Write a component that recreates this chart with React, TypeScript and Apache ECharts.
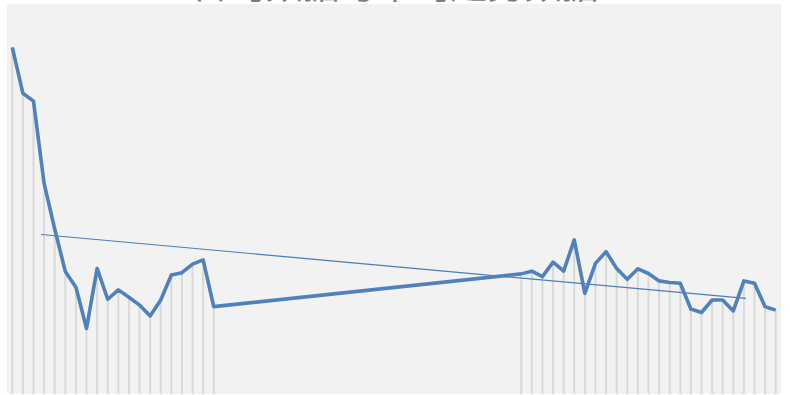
import React, { useEffect, useRef } from "react";
import * as echarts from "echarts";

const TITLE = "日均数据与平均趋势数据";
const SLOT_COUNT = 73; // date slots on the category axis
const GAP_LENGTH = 28; // missing slots between the two groups
const categories: string[] = Array.from({ length: SLOT_COUNT }, (_, i) => `第${i + 1}天`);

const firstGroup = [
  88.9, 77.1, 75.1, 54.0, 42.3, 31.4, 27.4, 16.8, 32.2, 24.3,
  26.7, 24.8, 22.8, 20.0, 24.1, 30.5, 31.1, 33.3, 34.4, 22.4,
];
const secondGroup = [
  30.8, 31.5, 30.1, 33.8, 31.5, 39.5, 25.8, 33.5, 36.5, 32.2,
  29.4, 32.1, 30.9, 29.0, 28.6, 28.4, 21.8, 20.9, 24.1, 24.1,
  21.3, 29.0, 28.4, 22.4, 21.5,
];
const trendX = [2.71, 69.19];
const trendY = [40.9, 24.5];

export default function App() {
  const ref = useRef<HTMLDivElement>(null);
  useEffect(() => {
    if (!ref.current) return;
    const chart = echarts.init(ref.current, undefined, { renderer: "svg" });
    const values: (number | null)[] = [
      ...firstGroup,
      ...new Array(GAP_LENGTH).fill(null),
      ...secondGroup,
    ];
    chart.setOption({
      animation: false,
      backgroundColor: "#ffffff",
      grid: {
        left: 7,
        top: 4,
        right: 9,
        bottom: 1,
        show: true,
        backgroundColor: "#f2f2f2",
        borderWidth: 0,
      },
      graphic: [
        {
          type: "text",
          x: 395,
          y: 1,
          z: -1,
          style: {
            text: TITLE,
            fill: "#7a7a7a",
            font: "37px 'Noto Sans CJK SC'",
            textAlign: "center",
            textVerticalAlign: "bottom",
          },
        },
      ],
      xAxis: [
        {
          type: "category",
          data: categories,
          boundaryGap: true,
          show: false,
        },
        {
          type: "value",
          min: -0.5,
          max: SLOT_COUNT - 0.5,
          show: false,
        },
      ],
      yAxis: {
        type: "value",
        min: 0,
        max: 100,
        show: false,
        splitLine: { show: false },
      },
      series: [
        {
          type: "bar",
          data: values,
          barWidth: 2,
          itemStyle: { color: "#d9d9d9" },
          silent: true,
          z: 1,
        },
        {
          type: "line",
          xAxisIndex: 1,
          data: trendX.map((x, i) => [x, trendY[i]]),
          symbol: "none",
          lineStyle: { color: "#4a7ebb", width: 1.2 },
          z: 2,
        },
        {
          type: "line",
          data: values,
          connectNulls: true,
          symbol: "none",
          lineStyle: { color: "#4f81bd", width: 3.6, join: "round" },
          z: 3,
        },
      ],
    });
    return () => chart.dispose();
  }, []);
  return (
    <div
      ref={ref}
      style={{ position: "absolute", left: 0, top: 0, width: 790, height: 395 }}
    />
  );
}
